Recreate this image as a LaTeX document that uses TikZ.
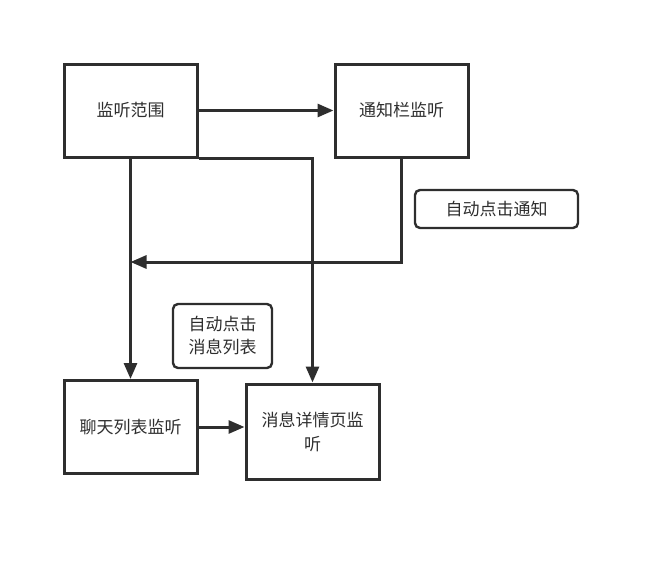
\documentclass[tikz,border=0pt]{standalone}
\usepackage{fontspec}
\newfontfamily\cjk{Noto Sans CJK SC}
\usetikzlibrary{arrows.meta}
\definecolor{ink}{HTML}{2E2E2E}
\begin{document}
\begin{tikzpicture}[x=1pt,y=-1pt,
  box/.style={draw=ink,line width=3pt,minimum width=133pt,minimum height=93pt,inner sep=2pt,align=center,font=\cjk\fontsize{17}{24}\selectfont,text=ink},
  note/.style={draw=ink,line width=2.4pt,rounded corners=5pt,align=center,font=\cjk\fontsize{17}{23}\selectfont,text=ink},
  conn/.style={draw=ink,line width=3pt,-{Triangle[length=16pt,width=13pt]}}]
\useasboundingbox (0,0) rectangle (662,562);
\node[box] (A) at (130.5,110.5) {监听范围};
\node[box] (B) at (401.5,110.5) {通知栏监听};
\node[box] (C) at (130.5,427) {聊天列表监听};
\node[box,minimum height=95pt] (D) at (312.5,431.5) {消息详情页监\\听};
\node[note,minimum width=163pt,minimum height=38pt] (N1) at (496.5,209) {自动点击通知};
\node[note,minimum width=99pt,minimum height=64pt] (N2) at (222.5,336) {自动点击\\消息列表};
\draw[conn] (A.east) -- (B.west);
\draw[conn] (A.south) -- (C.north);
\draw[conn] (C.east) -- (D.west |- C.east);
\coordinate (j) at (130.5,262);
\draw[conn] (B.south) |- (j);
\draw[conn] (A.south east) -| (D.north);
\end{tikzpicture}
\end{document}
